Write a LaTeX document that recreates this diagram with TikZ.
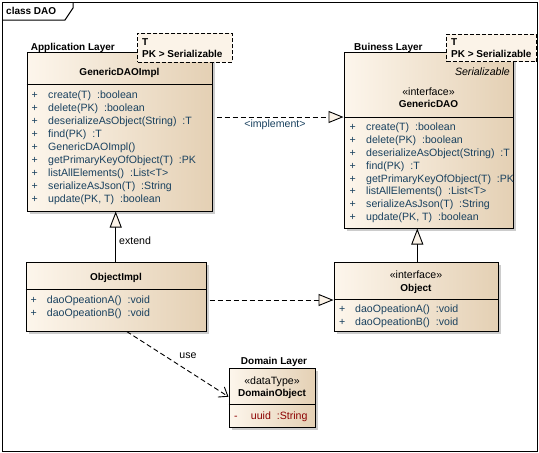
\documentclass[tikz,border=0pt]{standalone}
\usepackage{fontspec}
\setmainfont{Liberation Sans}
\usetikzlibrary{arrows.meta,shadows,fit,calc}
\definecolor{optxt}{RGB}{25,65,95}
\definecolor{attxt}{RGB}{140,0,0}
\definecolor{fillL}{RGB}{253,246,236}
\definecolor{fillR}{RGB}{228,208,180}
\definecolor{tplfill}{RGB}{251,243,232}
\begin{document}
\begin{tikzpicture}[x=1pt,y=-1pt,
  every node/.style={font=\fontsize{10.6}{12}\selectfont, inner sep=0pt},
  clsbox/.style={draw, line width=1pt, left color=fillL, right color=fillR, inner sep=0pt,
    drop shadow={shadow xshift=3pt, shadow yshift=-3pt, opacity=0.4}},
  tplbox/.style={draw, dash pattern=on 4pt off 2pt, fill=tplfill, line width=1pt, inner sep=0pt},
  op/.style={anchor=base west, text=optxt},
  attrtxt/.style={anchor=base west, text=attxt},
  bt/.style={font=\fontsize{10}{12}\selectfont\bfseries},
  lbl/.style={anchor=base west},
  sep/.style={line width=1pt},
  gen/.style={line width=0.9pt, -{Triangle[length=16pt,width=12pt,fill=tplfill]}},
  real/.style={line width=0.9pt, dash pattern=on 5pt off 3pt, -{Triangle[length=15pt,width=12pt,fill=tplfill]}},
  dep/.style={line width=0.9pt, dash pattern=on 5pt off 3pt, -{Straight Barb[length=8pt,width=12pt]}}
]
\useasboundingbox (0,0) rectangle (539,453);
\fill[white] (0,0) rectangle (539,453);
% frame
\draw[line width=1pt] (2,2) rectangle (537,451);
\draw[line width=1pt] (2,20) -- (65,20) -- (73,8) -- (73,2);
\node[bt, anchor=base west] (frmlbl) at (6,14.5) {class DAO};

% class boxes
\node[clsbox, fit={(27,52) (212,211)}] (gdi) {};
\node[clsbox, fit={(344,52) (513,228)}] (gd) {};
\node[clsbox, fit={(26,262) (206,331)}] (oi) {};
\node[clsbox, fit={(334,262) (498,331)}] (o) {};
\node[clsbox, fit={(229,368) (315,427)}] (do) {};

% separators
\draw[sep] (gdi.west |- 0,84) -- (gdi.east |- 0,84);
\draw[sep] (gd.west |- 0,117) -- (gd.east |- 0,117);
\draw[sep] (oi.west |- 0,289) -- (oi.east |- 0,289);
\draw[sep] (o.west |- 0,299) -- (o.east |- 0,299);
\draw[sep] (do.west |- 0,404) -- (do.east |- 0,404);

% template boxes
\node[tplbox, fit={(137.7,33) (232,62)}] (gditpl) {};
\node[bt, lbl] (gditpl1) at (142,45.5) {T};
\node[bt, lbl] (gditpl2) at (142,57.5) {PK > Serializable};
\node[tplbox, fit={(446.7,34) (536.5,61.7)}] (gdtpl) {};
\node[bt, lbl] (gdtpl1) at (451,45.5) {T};
\node[bt, lbl] (gdtpl2) at (451,57.5) {PK > Serializable};

% layer titles
\node[bt, lbl] (applayer) at (30.7,50.2) {Application Layer};
\node[bt, lbl] (buslayer) at (354,50.2) {Buiness Layer};
\node[bt, anchor=base] (domlayer) at (274,364.2) {Domain Layer};

% GenericDAOImpl
\node[bt, anchor=base] (gdiname) at (119.5,75.5) {GenericDAOImpl};
\foreach [count=\i from 0] \t in {{create(T)\ \ :boolean},{delete(PK)\ \ :boolean},{deserializeAsObject(String)\ \ :T},{find(PK)\ \ :T},{GenericDAOImpl()},{getPrimaryKeyOfObject(T)\ \ :PK},{listAllElements()\ \ :List<T>},{serializeAsJson(T)\ \ :String},{update(PK, T)\ \ :boolean}}{
  \node[op] (gdip\i) at (31.5,{98.5+12.95*\i}) {+};
  \node[op] (gdim\i) at (48,{98.5+12.95*\i}) {\t};
}

% GenericDAO
\node[anchor=base east] (gdser) at (510,75.5) {\itshape Serializable};
\node[anchor=base] (gdst) at (428.5,95.2) {«interface»};
\node[bt, anchor=base] (gdname) at (428.5,107.5) {GenericDAO};
\foreach [count=\i from 0] \t in {{create(T)\ \ :boolean},{delete(PK)\ \ :boolean},{deserializeAsObject(String)\ \ :T},{find(PK)\ \ :T},{getPrimaryKeyOfObject(T)\ \ :PK},{listAllElements()\ \ :List<T>},{serializeAsJson(T)\ \ :String},{update(PK, T)\ \ :boolean}}{
  \node[op] (gdp\i) at (349.5,{130.2+12.95*\i}) {+};
  \node[op] (gdm\i) at (366,{130.2+12.95*\i}) {\t};
}

% ObjectImpl
\node[bt, anchor=base] (oiname) at (116,280.8) {ObjectImpl};
\node[op] (oip0) at (30.5,303.5) {+};
\node[op] (oim0) at (46.7,303.5) {daoOpeationA()\ \ :void};
\node[op] (oip1) at (30.5,316.2) {+};
\node[op] (oim1) at (46.7,316.2) {daoOpeationB()\ \ :void};

% Object
\node[anchor=base] (ost) at (416,278.5) {«interface»};
\node[bt, anchor=base] (oname) at (416,291.2) {Object};
\node[op] (op0) at (339,312.8) {+};
\node[op] (om0) at (355,312.8) {daoOpeationA()\ \ :void};
\node[op] (op1) at (339,325.5) {+};
\node[op] (om1) at (355,325.5) {daoOpeationB()\ \ :void};

% DomainObject
\node[anchor=base] (dost) at (272,384.5) {«dataType»};
\node[bt, anchor=base] (doname) at (272,396.8) {DomainObject};
\node[attrtxt] (dop0) at (234,419.2) {-};
\node[attrtxt] (dom0) at (250.7,419.2) {uuid\ \ :String};

% connectors
\draw[gen] (oi.north -| 115.7,0) -- (gdi.south -| 115.7,0);
\node[lbl] (extlbl) at (119,244.2) {extend};
\draw[gen] (o.north -| 417.3,0) -- (gd.south -| 417.3,0);
\draw[real] ($(gdi.east |- 0,117)+(4,0)$) -- (gd.west |- 0,117);
\node[anchor=base, text=optxt] (implbl) at (275,127.8) {<implement>};
\draw[real] ($(oi.east |- 0,300)+(3,0)$) -- (o.west |- 0,300);
\draw[dep] (oi.south -| 126.7,0) -- (do.west |- 0,396.7);
\node[anchor=base] (uselbl) at (188,358.5) {use};
\end{tikzpicture}
\end{document}
